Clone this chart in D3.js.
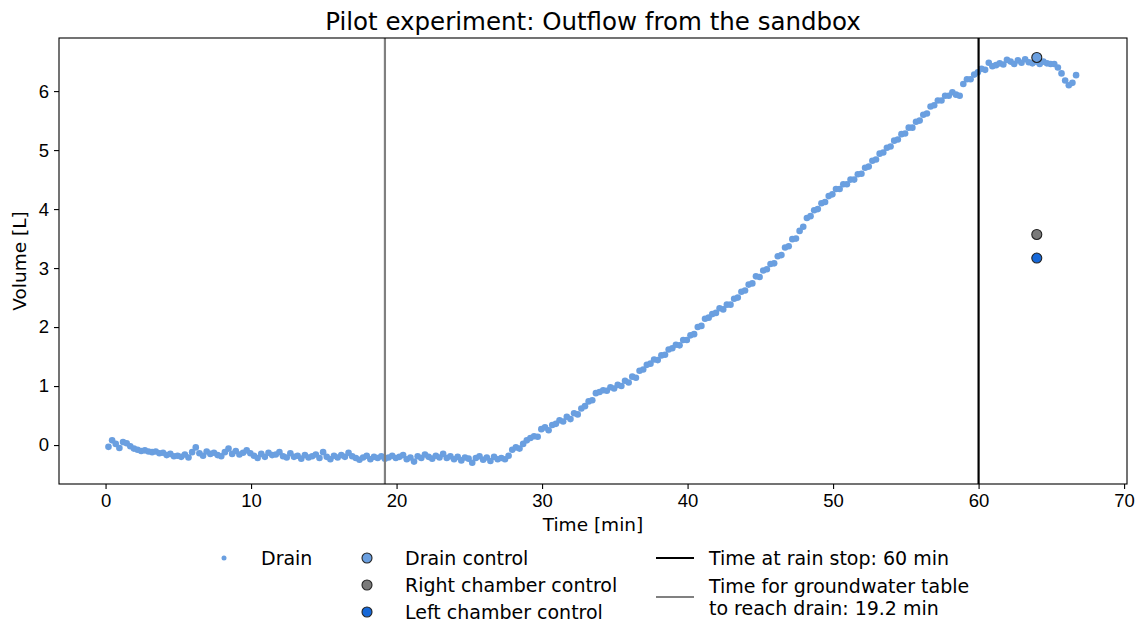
<!DOCTYPE html>
<html>
<head>
<meta charset="utf-8">
<script src="https://cdn.jsdelivr.net/npm/d3@7"></script>
<style>
  html, body { margin: 0; padding: 0; background: #fff; }
  svg { display: block; font-family: "DejaVu Sans", sans-serif; }
  .axis text { font-size: 18.5px; fill: #000; }
  .axis path, .axis line { stroke: #000; stroke-width: 1.1; }
</style>
</head>
<body>
<div id="chart"></div>
<script>
// Drain outflow sampled every quarter minute starting at 0.2 min.
const drainStart = 0.2;
const drainStep = 0.25;
const drainVolume = [
  -0.03, 0.08, 0.02, -0.05, 0.05, 0.03, -0.02, -0.06, -0.08, -0.10, -0.09, -0.11, -0.12, -0.11, -0.14, -0.13, -0.17, -0.15, -0.19, -0.18,
  -0.20, -0.16, -0.21, -0.12, -0.04, -0.14, -0.18, -0.11, -0.15, -0.13, -0.17, -0.19, -0.12, -0.06, -0.15, -0.10, -0.16, -0.13, -0.09, -0.14,
  -0.18, -0.22, -0.15, -0.20, -0.13, -0.17, -0.16, -0.12, -0.19, -0.21, -0.14, -0.20, -0.18, -0.23, -0.17, -0.21, -0.19, -0.16, -0.22, -0.12,
  -0.20, -0.24, -0.18, -0.21, -0.17, -0.20, -0.13, -0.19, -0.22, -0.25, -0.21, -0.18, -0.24, -0.20, -0.22, -0.19, -0.23, -0.21, -0.18, -0.22,
  -0.20, -0.17, -0.24, -0.21, -0.28, -0.19, -0.22, -0.16, -0.20, -0.23, -0.18, -0.21, -0.15, -0.22, -0.19, -0.24, -0.20, -0.26, -0.21, -0.23,
  -0.30, -0.22, -0.19, -0.25, -0.21, -0.27, -0.20, -0.24, -0.22, -0.24, -0.18, -0.08, -0.04, -0.06, 0.02, 0.08, 0.12, 0.15, 0.14, 0.27,
  0.30, 0.25, 0.34, 0.36, 0.42, 0.40, 0.48, 0.44, 0.54, 0.52, 0.62, 0.66, 0.74, 0.76, 0.88, 0.90, 0.93, 0.92, 0.98, 0.96,
  1.02, 1.00, 1.09, 1.06, 1.16, 1.14, 1.26, 1.28, 1.36, 1.38, 1.45, 1.44, 1.52, 1.53, 1.62, 1.64, 1.70, 1.69, 1.78, 1.78,
  1.86, 1.88, 2.00, 2.02, 2.14, 2.16, 2.22, 2.24, 2.32, 2.30, 2.38, 2.38, 2.48, 2.50, 2.60, 2.62, 2.72, 2.74, 2.86, 2.85,
  2.96, 2.98, 3.07, 3.08, 3.20, 3.22, 3.35, 3.37, 3.49, 3.50, 3.63, 3.70, 3.85, 3.88, 3.98, 4.00, 4.10, 4.12, 4.22, 4.25,
  4.34, 4.34, 4.42, 4.42, 4.50, 4.50, 4.59, 4.60, 4.70, 4.72, 4.82, 4.84, 4.94, 4.96, 5.04, 5.06, 5.16, 5.18, 5.27, 5.28,
  5.38, 5.38, 5.48, 5.50, 5.60, 5.62, 5.74, 5.76, 5.84, 5.84, 5.92, 5.92, 5.98, 5.94, 5.92, 6.12, 6.20, 6.20, 6.28, 6.32,
  6.38, 6.36, 6.48, 6.42, 6.44, 6.47, 6.45, 6.53, 6.50, 6.46, 6.52, 6.48, 6.54, 6.49, 6.47, 6.50, 6.46, 6.50, 6.47, 6.46,
  6.46, 6.40, 6.30, 6.18, 6.10, 6.14, 6.27
];

// Control measurements taken after the run.
const controlNames = ['Drain control', 'Right chamber control', 'Left chamber control'];
const controlTimes = [64, 64, 64];
const controlVolumes = [6.57, 3.57, 3.17];
const controlColors = ['#6a9fe0', '#7a7a7a', '#1668d8'];

// Reference times drawn as vertical lines.
const markerNames = ['Time at rain stop: 60 min', 'Time for groundwater table\nto reach drain: 19.2 min'];
const markerTimes = [60, 19.2];
const markerColors = ['#000000', '#808080'];

const xTicks = [0, 10, 20, 30, 40, 50, 60, 70];
const yTicks = [0, 1, 2, 3, 4, 5, 6];

(function(){
  const width = 1139, height = 624;
  const plotBox = {left: 59, right: 1127, top: 38, bottom: 484};
  const drainColor = '#6a9fe0';

  const svg = d3.select('#chart').append('svg')
    .attr('width', width)
    .attr('height', height);

  const drain = drainVolume.map((v, i) => ({t: drainStart + i * drainStep, v}));
  const controls = controlNames.map((name, i) => ({name, t: controlTimes[i], v: controlVolumes[i], color: controlColors[i]}));

  const x = d3.scaleLinear().domain([-3.2, 70.2]).range([plotBox.left, plotBox.right]);
  const y = d3.scaleLinear().domain([-0.66, 6.90]).range([plotBox.bottom, plotBox.top]);

  // Axes
  svg.append('g')
    .attr('class', 'axis')
    .attr('transform', `translate(0,${plotBox.bottom})`)
    .call(d3.axisBottom(x).tickValues(xTicks).tickSize(5).tickPadding(5).tickFormat(d3.format('d')))
    .call(g => g.select('.domain').remove());

  svg.append('g')
    .attr('class', 'axis')
    .attr('transform', `translate(${plotBox.left},0)`)
    .call(d3.axisLeft(y).tickValues(yTicks).tickSize(5).tickPadding(5).tickFormat(d3.format('d')))
    .call(g => g.select('.domain').remove());

  // Drain scatter
  svg.append('g').selectAll('circle')
    .data(drain)
    .join('circle')
    .attr('cx', d => x(d.t))
    .attr('cy', d => y(d.v))
    .attr('r', 3.3)
    .attr('fill', drainColor);

  // Control points
  svg.append('g').selectAll('circle')
    .data(controls)
    .join('circle')
    .attr('cx', d => x(d.t))
    .attr('cy', d => y(d.v))
    .attr('r', 5)
    .attr('fill', d => d.color)
    .attr('stroke', '#222')
    .attr('stroke-width', 1.1);

  // Vertical reference lines
  svg.append('g').selectAll('line')
    .data(markerTimes)
    .join('line')
    .attr('x1', d => x(d)).attr('x2', d => x(d))
    .attr('y1', plotBox.top).attr('y2', plotBox.bottom)
    .attr('stroke', (d, i) => markerColors[i])
    .attr('stroke-width', 2.2);

  // Frame
  svg.append('rect')
    .attr('x', plotBox.left).attr('y', plotBox.top)
    .attr('width', plotBox.right - plotBox.left)
    .attr('height', plotBox.bottom - plotBox.top)
    .attr('fill', 'none')
    .attr('stroke', '#000')
    .attr('stroke-width', 1.1);

  // Titles
  svg.append('text')
    .attr('x', (plotBox.left + plotBox.right) / 2)
    .attr('y', 30)
    .attr('text-anchor', 'middle')
    .attr('font-size', 24.5)
    .text('Pilot experiment: Outflow from the sandbox');

  svg.append('text')
    .attr('x', (plotBox.left + plotBox.right) / 2)
    .attr('y', 531)
    .attr('text-anchor', 'middle')
    .attr('font-size', 18.5)
    .text('Time [min]');

  svg.append('text')
    .attr('transform', `translate(26,${(plotBox.top + plotBox.bottom) / 2}) rotate(-90)`)
    .attr('text-anchor', 'middle')
    .attr('font-size', 18.5)
    .text('Volume [L]');

  // Legend, three columns like the matplotlib one below the axes.
  const legend = svg.append('g').attr('font-size', 19);
  const rows = [558, 585, 612];

  legend.append('circle').attr('cx', 224).attr('cy', rows[0]).attr('r', 2.5).attr('fill', drainColor);
  legend.append('text').attr('x', 261).attr('y', rows[0]).attr('dy', '0.35em').text('Drain');

  controls.forEach((d, i) => {
    legend.append('circle').attr('cx', 367).attr('cy', rows[i]).attr('r', 5)
      .attr('fill', d.color).attr('stroke', '#222').attr('stroke-width', 1.1);
    legend.append('text').attr('x', 405).attr('y', rows[i]).attr('dy', '0.35em').text(d.name);
  });

  const lineRows = [558, 597];
  markerNames.forEach((name, i) => {
    legend.append('line')
      .attr('x1', 656).attr('x2', 694)
      .attr('y1', lineRows[i]).attr('y2', lineRows[i])
      .attr('stroke', markerColors[i]).attr('stroke-width', 2.2);
    const lines = name.split('\n');
    const t = legend.append('text').attr('x', 709)
      .attr('y', lineRows[i] - (lines.length - 1) * 11);
    lines.forEach((s, j) => t.append('tspan').attr('x', 709).attr('dy', j ? 22 : '0.35em').text(s));
  });
})();
</script>
</body>
</html>
